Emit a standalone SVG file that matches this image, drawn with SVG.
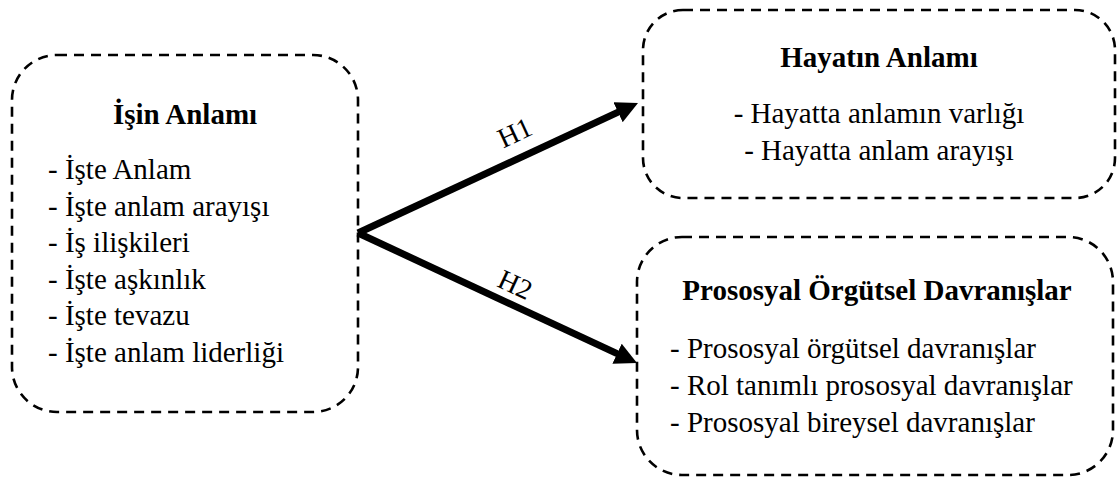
<svg xmlns="http://www.w3.org/2000/svg" width="1119" height="477" viewBox="0 0 1119 477">
  <style>
    .box { fill: none; stroke: #000; stroke-width: 2.6; stroke-dasharray: 10 7; }
    .title { font-family: "Liberation Serif", "Times New Roman", serif; font-weight: bold; font-size: 29px; fill: #000; }
    .item { font-family: "Liberation Serif", "Times New Roman", serif; font-size: 29px; fill: #000; }
    .lbl { font-family: "Liberation Serif", "Times New Roman", serif; font-size: 28px; fill: #000; text-anchor: middle; }
    .mid { text-anchor: middle; }
    .arrow { stroke: #000; stroke-width: 7; fill: none; marker-end: url(#head); }
  </style>
  <defs>
    <marker id="head" viewBox="0 0 22 22" markerUnits="userSpaceOnUse" markerWidth="22" markerHeight="22" refX="6" refY="11" orient="auto">
      <path d="M0,0 L22,11 L0,22 z" fill="#000"/>
    </marker>
  </defs>
  <rect width="1119" height="477" fill="#fff"/>

  <g id="isin-anlami">
    <rect class="box" x="12" y="55" width="346" height="357" rx="45" ry="45"/>
    <text class="title mid" x="185" y="124">İşin Anlamı</text>
    <text class="item" x="48" y="179">- İşte Anlam</text>
    <text class="item" x="48" y="216">- İşte anlam arayışı</text>
    <text class="item" x="48" y="252">- İş ilişkileri</text>
    <text class="item" x="48" y="289">- İşte aşkınlık</text>
    <text class="item" x="48" y="325">- İşte tevazu</text>
    <text class="item" x="48" y="362">- İşte anlam liderliği</text>
  </g>

  <g id="hayatin-anlami">
    <rect class="box" x="643" y="10" width="472" height="188" rx="40" ry="40"/>
    <text class="title mid" x="879" y="67">Hayatın Anlamı</text>
    <text class="item mid" x="879" y="123">- Hayatta anlamın varlığı</text>
    <text class="item mid" x="879" y="160">- Hayatta anlam arayışı</text>
  </g>

  <g id="prososyal">
    <rect class="box" x="637" y="237" width="476" height="238" rx="45" ry="45"/>
    <text class="title mid" x="877" y="300">Prososyal Örgütsel Davranışlar</text>
    <text class="item" x="670" y="358">- Prososyal örgütsel davranışlar</text>
    <text class="item" x="670" y="395">- Rol tanımlı prososyal davranışlar</text>
    <text class="item" x="670" y="432">- Prososyal bireysel davranışlar</text>
  </g>

  <g id="connectors">
    <line class="arrow" x1="358" y1="233" x2="623.5" y2="109.7"/>
    <line class="arrow" x1="358" y1="233" x2="622.5" y2="356.2"/>
    <text class="lbl" transform="translate(515 133) rotate(-25)" y="9">H1</text>
    <text class="lbl" transform="translate(515 285) rotate(25)" y="9">H2</text>
  </g>
</svg>
